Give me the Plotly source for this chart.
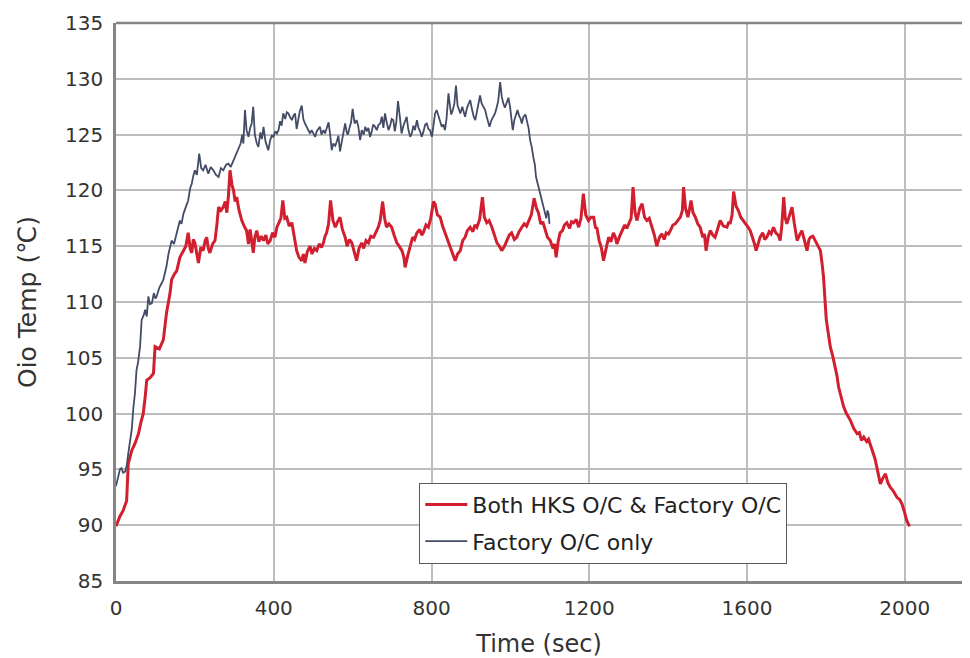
import plotly.graph_objects as go

# ---- data ----
red_name = "Both HKS O/C & Factory O/C"
red_time = [0,10,18,27,31,40,48,57,63,69,74,78,86,95,99,110,120,128,137,141,148,154,162,171,177,183,188,192,196,200,
205,209,215,221,226,230,234,238,245,251,256,260,266,272,277,281,285,289,294,298,302,306,312,319,325,331,336,340,344,348,
352,357,362,368,374,380,385,391,397,403,408,414,418,423,428,433,439,446,452,458,464,471,475,479,485,492,497,503,509,515,
521,526,530,534,539,544,550,556,562,568,574,581,586,592,598,604,610,616,623,628,634,640,646,653,659,665,670,676,681,686,
692,699,705,712,718,725,730,733,740,746,752,757,763,770,775,779,786,792,798,805,809,815,822,828,834,840,847,853,860,866,
873,879,885,891,898,905,910,915,922,929,934,940,946,953,960,966,972,978,985,991,997,1003,1010,1016,1022,1029,1035,1041,1046,1053,
1060,1066,1071,1077,1082,1088,1094,1101,1108,1112,1116,1121,1126,1132,1137,1143,1150,1155,1160,1167,1173,1179,1185,1191,1198,1204,1211,1216,1219,1225,
1231,1236,1243,1249,1255,1261,1266,1270,1277,1283,1290,1295,1300,1306,1311,1316,1321,1328,1334,1340,1346,1352,1359,1365,1371,1378,1384,1390,1395,1401,
1407,1412,1418,1424,1431,1436,1439,1444,1450,1454,1458,1463,1469,1475,1481,1488,1492,1496,1502,1507,1513,1519,1525,1532,1540,1549,1554,1557,1562,1566,
1572,1578,1584,1591,1597,1603,1608,1614,1619,1623,1628,1633,1640,1645,1650,1656,1661,1667,1673,1679,1684,1688,1693,1697,1701,1707,1714,1720,1727,1733,
1739,1745,1752,1757,1761,1767,1773,1779,1786,1790,1794,1797,1801,1806,1811,1817,1824,1828,1832,1838,1845,1852,1858,1862,1870,1879,1885,1890,1896,1903,
1908,1912,1918,1924,1929,1934,1938,1944,1951,1957,1963,1970,1975,1980,1987,1993,1999,2005,2012]
red_temp = [89.9,90.8,91.3,92.2,95.5,96.7,97.3,98.2,99.2,100.0,101.5,103.0,103.2,103.6,106.0,105.8,106.6,109.0,110.8,112.0,112.5,112.8,114.0,114.6,115.0,116.2,114.8,114.4,115.6,115.3,
114.2,113.5,114.9,114.6,115.5,115.8,114.8,114.4,115.2,115.5,117.0,118.5,118.2,118.5,119.0,118.0,119.5,121.8,120.5,120.0,119.0,119.4,118.2,117.3,116.8,116.4,115.2,116.5,115.5,114.4,
115.8,116.4,115.4,115.9,115.5,116.0,115.2,115.5,116.2,115.8,116.7,117.2,117.5,119.1,117.5,117.6,116.8,117.1,115.8,114.6,114.0,113.7,114.3,113.5,114.5,115.0,114.3,114.8,114.6,115.2,
114.9,115.3,115.9,116.2,117.0,119.1,117.3,116.7,117.2,117.6,116.5,115.8,115.0,115.6,115.3,114.5,113.7,114.8,115.3,114.8,115.5,115.3,115.9,115.8,116.3,116.7,117.3,119.0,117.5,116.7,
117.0,116.7,116.0,115.3,115.0,114.6,114.0,113.1,114.2,115.0,115.8,115.6,116.2,116.5,116.0,116.2,116.9,116.7,117.5,119.0,118.8,117.8,117.6,116.8,116.2,115.6,115.0,114.2,113.7,114.3,
114.6,115.5,115.8,116.4,116.7,116.3,116.9,116.7,117.4,119.4,117.6,117.1,117.3,116.7,116.0,115.3,115.0,114.6,115.0,115.5,116.0,116.2,115.6,115.8,116.3,116.7,117.0,116.8,117.3,117.8,
119.3,118.4,118.0,117.0,117.2,116.4,115.8,115.5,114.8,115.2,114.0,115.4,116.2,116.4,116.9,117.1,116.6,117.2,117.1,117.4,116.7,117.5,119.7,117.8,117.3,117.6,117.6,116.6,116.7,115.5,
114.8,113.7,115.0,115.8,115.4,116.2,115.8,115.2,115.9,116.4,116.9,116.6,117.0,117.5,120.3,118.0,117.3,118.4,118.8,117.6,117.3,117.5,116.7,116.0,115.0,115.8,116.1,115.6,116.2,116.1,
116.5,116.9,117.0,117.3,117.6,118.2,120.3,118.4,117.6,118.3,119.1,118.0,117.6,117.0,116.7,115.8,116.1,114.6,115.9,116.4,116.0,115.8,116.6,117.3,116.8,116.7,117.2,117.0,117.8,119.9,
118.6,118.2,117.6,117.3,117.0,116.7,116.4,115.8,115.2,114.6,115.3,115.8,116.2,115.6,115.8,116.3,116.1,116.7,116.2,116.0,115.5,116.8,119.4,117.5,117.0,117.8,118.5,117.0,115.5,116.0,
116.4,115.6,114.6,115.6,115.8,115.9,115.5,115.2,114.6,113.5,112.2,110.5,108.4,107.2,106.0,105.2,104.2,103.4,102.4,101.5,100.6,100.0,99.6,99.4,98.7,98.2,98.3,97.6,97.9,97.5,
97.7,97.3,96.6,96.0,95.2,94.4,93.7,94.2,94.6,93.8,93.4,93.1,92.8,92.5,92.3,91.9,91.2,90.4,89.9]

blue_name = "Factory O/C only"
blue_time = [0,3,6,10,14,18,23,27,31,36,40,44,48,52,56,61,65,70,74,78,82,86,91,96,100,103,110,116,120,124,
128,133,137,141,147,154,158,162,166,171,177,183,188,192,196,200,205,211,216,221,227,234,240,247,253,260,266,272,279,285,
291,298,304,310,316,320,323,327,331,336,340,344,348,352,357,361,366,370,374,379,383,386,391,395,399,404,408,412,416,420,
424,429,433,437,441,446,450,454,458,462,466,471,475,479,483,487,492,496,500,505,509,513,517,521,526,530,535,539,543,547,
551,556,560,564,568,573,577,581,585,588,592,596,600,605,610,614,619,623,628,632,636,640,644,648,652,657,661,666,670,674,
678,682,687,691,695,699,703,707,711,715,720,724,728,733,737,741,746,750,754,758,763,767,771,775,779,784,788,792,796,801,
805,809,813,818,822,826,830,834,838,843,847,850,854,858,862,866,870,873,878,881,885,890,894,898,903,907,911,915,919,923,
927,932,936,940,944,947,952,957,961,965,969,974,978,982,986,991,995,999,1003,1006,1010,1014,1018,1022,1026,1029,1033,1038,1042,1046,
1050,1054,1058,1062,1065,1069,1074,1079,1084,1088,1091,1094,1097,1099]
blue_temp = [93.5,94.0,94.6,95.0,95.1,94.7,94.8,95.3,96.4,97.6,98.6,100.5,101.8,103.9,104.6,106.0,108.4,108.8,109.3,108.7,110.5,109.8,109.9,110.8,110.3,110.5,111.3,111.7,112.0,112.6,
113.2,114.3,115.0,115.5,115.2,116.1,116.7,117.3,117.0,117.9,118.5,119.1,120.2,120.6,121.3,121.8,121.4,123.3,122.0,121.8,122.3,121.5,122.1,121.8,121.4,121.2,122.0,121.8,122.3,122.4,
122.1,122.7,123.1,123.6,124.2,125.0,124.2,127.2,125.4,124.8,125.6,126.0,127.5,125.0,124.2,123.9,125.2,124.6,125.7,124.4,124.0,123.6,124.5,124.9,124.8,125.3,125.1,125.4,126.2,125.8,
126.9,126.4,127.0,126.9,126.6,126.3,126.7,126.9,125.5,126.5,127.1,127.6,126.4,126.0,125.7,125.5,125.1,125.4,125.1,124.8,125.3,125.5,125.7,125.0,125.4,125.1,125.6,126.1,125.0,123.6,
124.2,124.0,124.4,124.9,123.5,124.6,125.3,126.0,125.2,125.0,125.6,126.1,127.3,126.0,126.3,125.8,124.5,125.4,125.0,125.7,125.3,125.6,124.8,125.2,125.9,125.7,125.4,125.9,126.0,126.6,
125.6,126.9,126.0,125.4,125.8,126.4,126.3,125.3,126.2,128.0,126.5,125.1,125.7,126.3,126.6,125.5,124.8,125.1,125.8,125.4,126.3,125.6,125.3,124.8,125.2,125.9,126.0,125.5,125.4,124.8,
126.0,126.9,127.2,126.6,126.3,125.7,125.9,125.4,126.4,128.7,127.5,126.8,127.2,127.8,129.4,127.6,127.2,126.9,127.5,127.0,126.6,127.4,127.7,128.1,127.2,126.6,126.3,127.0,127.6,128.5,
127.8,127.5,127.2,126.6,126.0,125.7,126.3,126.7,126.9,127.4,128.0,129.7,128.4,127.8,127.4,127.9,128.3,127.5,126.4,125.4,126.3,126.8,127.2,126.7,126.4,126.0,126.6,126.8,126.3,125.6,
124.5,123.9,123.0,122.3,121.2,120.6,119.7,119.2,118.5,117.8,117.5,118.2,117.9,117.0]

x_ticks = [0, 400, 800, 1200, 1600, 2000]
y_ticks = [85, 90, 95, 100, 105, 110, 115, 120, 125, 130, 135]
x_title = "Time (sec)"
y_title = "Oio Temp (℃)"

FONT = "DejaVu Sans"
GRID = "#bdbdbd"
AXIS = "#858585"

fig = go.Figure()
fig.add_trace(go.Scatter(x=red_time, y=red_temp, mode="lines", name=red_name,
                         legendgroup="a",
                         line=dict(color="#d21f2f", width=3)))
fig.add_trace(go.Scatter(x=blue_time, y=blue_temp, mode="lines", name=blue_name,
                         legendgroup="b",
                         line=dict(color="#434c66", width=1.8)))

fig.update_layout(
    width=954, height=650,
    margin=dict(l=108, r=0, t=15, b=77),
    paper_bgcolor="white", plot_bgcolor="white",
    font=dict(family=FONT, color="#333333"),
    showlegend=True,
    legend=dict(x=0.3585, y=0.176, xanchor="left", yanchor="top",
                bgcolor="white", bordercolor="#5a5a5a", borderwidth=1,
                font=dict(family=FONT, size=22, color="#222222"),
                itemwidth=42,
                traceorder="grouped", tracegroupgap=5),
    shapes=[dict(type="line", xref="paper", yref="paper", x0=0, x1=1, y0=1, y1=1,
                 line=dict(color=AXIS, width=2.5))],
)
fig.update_xaxes(range=[0, 2145], tickvals=x_ticks, showgrid=True, gridcolor=GRID, gridwidth=1.8,
                 zeroline=False, showline=True, linecolor=AXIS, linewidth=2.5,
                 ticks="", ticklabelstandoff=7, automargin=False,
                 tickfont=dict(family=FONT, size=20, color="#333333"),
                 title=dict(text=x_title, font=dict(family=FONT, size=24, color="#333333"), standoff=23))
fig.update_yaxes(range=[85, 135], tickvals=y_ticks, showgrid=True, gridcolor=GRID, gridwidth=1.8,
                 zeroline=False, showline=True, linecolor=AXIS, linewidth=2.5,
                 ticks="", ticklabelstandoff=6, automargin=False,
                 tickfont=dict(family=FONT, size=20, color="#333333"),
                 title=dict(text=y_title, font=dict(family=FONT, size=25, color="#333333"), standoff=22))

fig.write_html("out.html")
